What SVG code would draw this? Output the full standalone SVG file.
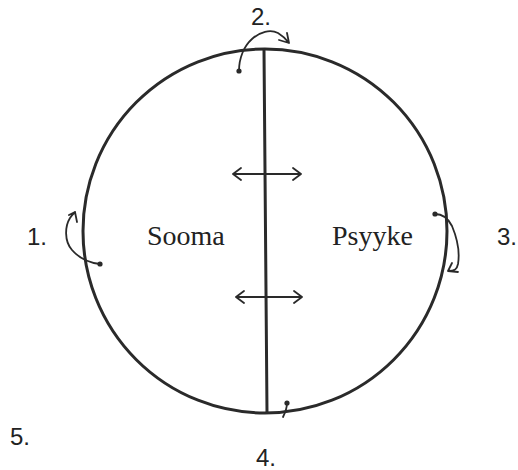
<svg xmlns="http://www.w3.org/2000/svg" width="518" height="470" viewBox="0 0 518 470">
<style>
.ln{fill:none;stroke:#2a2a2a;stroke-linecap:round;stroke-linejoin:round}
.thick{stroke-width:3}
.thin{stroke-width:1.8}
.lbl{font-family:"Liberation Serif",serif;font-size:28px;fill:#222}
.num{font-family:"Liberation Sans",sans-serif;font-size:24px;fill:#222}
.dot{fill:#2a2a2a}
</style>
<rect width="518" height="470" fill="#fff"/>
<g id="circle">
<circle class="ln thick" cx="265" cy="231" r="182"/>
</g>
<g id="divider">
<path class="ln thick" d="M264 50 L267 412"/>
</g>
<g id="sooma"><text class="lbl" x="147" y="245">Sooma</text></g>
<g id="psyyke"><text class="lbl" x="332" y="245">Psyyke</text></g>
<g id="n1"><text class="num" x="27" y="245">1.</text></g>
<g id="n2"><text class="num" x="251" y="25">2.</text></g>
<g id="n3"><text class="num" x="497" y="245">3.</text></g>
<g id="n4"><text class="num" x="256" y="466">4.</text></g>
<g id="n5"><text class="num" x="10" y="445">5.</text></g>
<g id="connectors">
<path class="ln thin" d="M233 174 L301 174 M241 168 L233 174 L241 180 M293 168 L301 174 L293 180"/>
<path class="ln thin" d="M236 297 L302 297 M244 291 L236 297 L244 303 M294 291 L302 297 L294 303"/>
<path class="ln thin" d="M239 71 C239 58 244 46 252 39 C260 32 270 29 278 33 C283 36 286 39 289 43 M279 40 L289 43 L287 33"/>
<circle class="dot" cx="239" cy="71" r="2.6"/>
<path class="ln thin" d="M100 264 C90 263 79 258 72 250 C64 241 65 226 70 218 C72 215 74 213 75 212 M69 215 L75 212 L77 222"/>
<circle class="dot" cx="100" cy="264" r="2.6"/>
<path class="ln thin" d="M435 214 C443 214 448 218 452 226 C457 238 460 252 458 264 C457 269 455 271 448 271 M452 263 L448 271 L458 272"/>
<circle class="dot" cx="435" cy="214" r="2.6"/>
<path class="ln thin" d="M287 403 C287 409 285 413 283 417"/>
<circle class="dot" cx="287" cy="403" r="2.6"/>
</g>
</svg>
